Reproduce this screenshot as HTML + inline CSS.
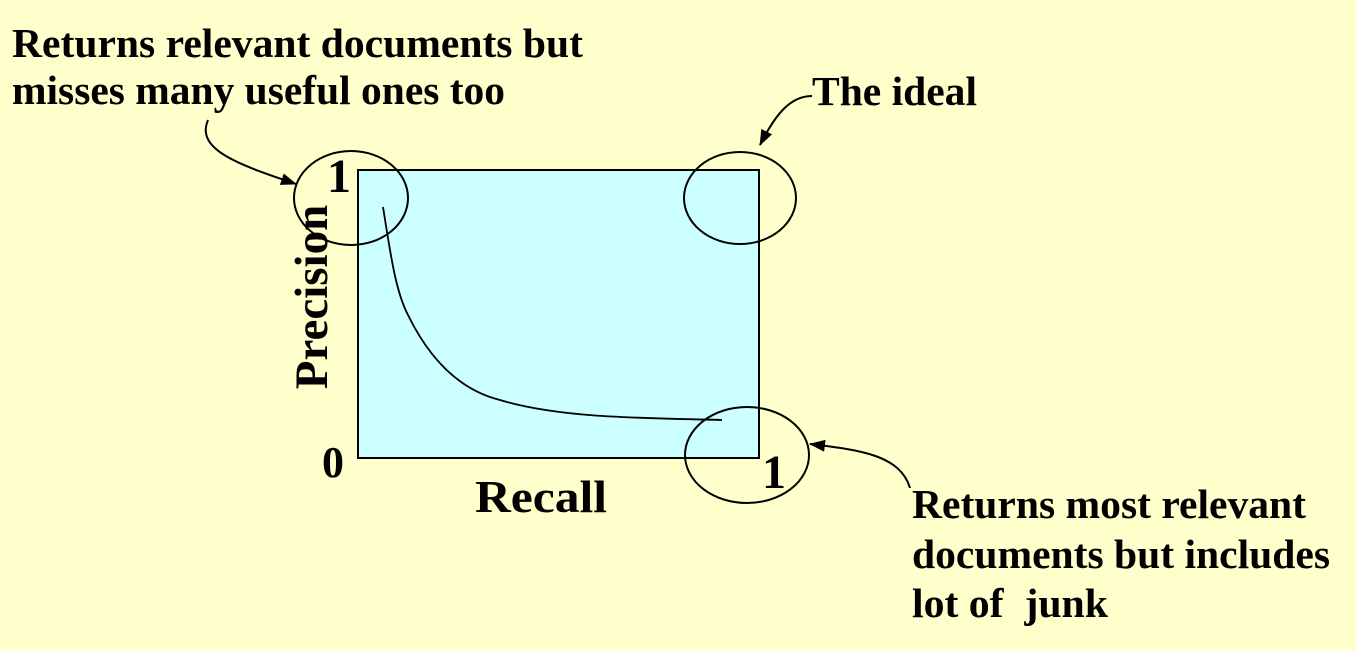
<!DOCTYPE html>
<html><head><style>
body{margin:0;background:#FFFFCC;}
svg{display:block}
text{font-family:"Liberation Serif",serif;font-weight:bold;fill:#000}
</style></head><body>
<svg width="1356" height="651" viewBox="0 0 1356 651">
<defs><marker id="a" markerWidth="16" markerHeight="12" refX="15" refY="6" orient="auto" markerUnits="userSpaceOnUse"><path d="M0,0 L16,6 L0,12 z"/></marker></defs>
<rect x="358" y="170" width="401" height="288" fill="#CCFFFF" stroke="#000" stroke-width="2"/>
<path d="M383,207 C390,250 395,290 408,315 C430,360 460,390 500,400 C560,418 640,418 722,420" fill="none" stroke="#000" stroke-width="1.8"/>
<ellipse cx="351" cy="198" rx="57" ry="47" fill="none" stroke="#000" stroke-width="2"/>
<ellipse cx="740" cy="198" rx="56" ry="46" fill="none" stroke="#000" stroke-width="2"/>
<ellipse cx="747" cy="455" rx="62" ry="48" fill="none" stroke="#000" stroke-width="2"/>
<path d="M208,120 C195,150 240,165 296,184" fill="none" stroke="#000" stroke-width="2" marker-end="url(#a)"/>
<path d="M812,96 C790,96 775,115 760,145" fill="none" stroke="#000" stroke-width="2" marker-end="url(#a)"/>
<path d="M910,488 C900,455 860,450 810,444" fill="none" stroke="#000" stroke-width="2" marker-end="url(#a)"/>
<text x="12" y="57" font-size="41" textLength="571" lengthAdjust="spacingAndGlyphs">Returns relevant documents but</text>
<text x="12" y="104" font-size="41" textLength="493" lengthAdjust="spacingAndGlyphs">misses many useful ones too</text>
<text x="812" y="105" font-size="41" textLength="165" lengthAdjust="spacingAndGlyphs">The ideal</text>
<text x="327" y="192" font-size="48">1</text>
<text x="322" y="477" font-size="44">0</text>
<text x="762" y="488" font-size="48">1</text>
<text x="475" y="512" font-size="46" textLength="132" lengthAdjust="spacingAndGlyphs">Recall</text>
<text transform="translate(327,297) rotate(-90)" text-anchor="middle" font-size="47">Precision</text>
<text x="912" y="518" font-size="41" textLength="394" lengthAdjust="spacingAndGlyphs">Returns most relevant</text>
<text x="912" y="568" font-size="41" textLength="418" lengthAdjust="spacingAndGlyphs">documents but includes</text>
<text x="912" y="617" font-size="41" textLength="196" lengthAdjust="spacingAndGlyphs" xml:space="preserve">lot of  junk</text>
</svg>
</body></html>
